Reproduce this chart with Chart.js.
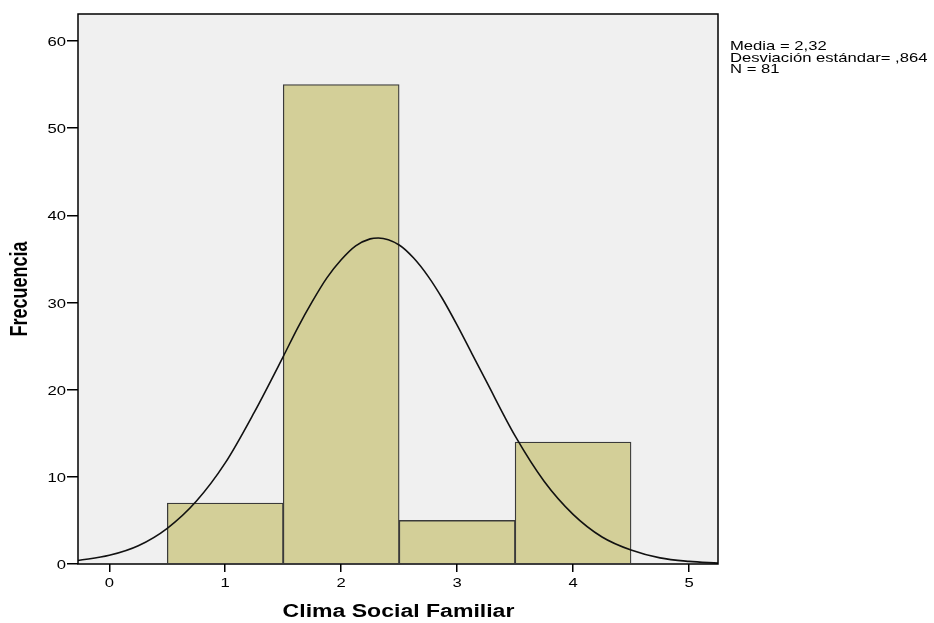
<!DOCTYPE html>
<html>
<head>
<meta charset="utf-8">
<script src="https://cdn.jsdelivr.net/npm/chart.js@4.4.0/dist/chart.umd.min.js"></script>
<style>
  html, body { margin: 0; padding: 0; background: #fff; }
  #wrap { width: 934px; height: 623px; position: relative; }
</style>
</head>
<body>
<div id="wrap"><canvas id="histChart"></canvas></div>
<script>
// histogram bins (class midpoints) and counts
var binCenters = [1, 2, 3, 4];
var binCounts = [7, 55, 5, 14];

// normal curve
var curveX = [-0.27, 0, 0.25, 0.5, 0.75, 1, 1.25, 1.5, 1.625, 1.75, 1.875, 2, 2.125, 2.25, 2.32, 2.5, 2.625, 2.75, 2.875, 3, 3.125, 3.25, 3.5, 3.75, 4, 4.25, 4.5, 4.75, 5, 5.25];
var curveY = [0.4, 1.0, 2.1, 4.1, 7.2, 11.6, 17.4, 23.8, 27.1, 30.1, 32.8, 34.9, 36.5, 37.3, 37.4, 36.6, 35.1, 33.0, 30.4, 27.4, 24.2, 21.0, 14.7, 9.5, 5.7, 3.1, 1.6, 0.7, 0.3, 0.1];

var xTicks = [0, 1, 2, 3, 4, 5];
var yTicks = [0, 10, 20, 30, 40, 50, 60];
var statsLines = ['Media = 2,32', 'Desviación estándar= ,864', 'N = 81'];

var FONT = '"Liberation Sans", Arial, sans-serif';
var SX = 1.28; // the source picture is stretched sideways

function wideText(ctx, text, x, y, align, rotate) {
  ctx.save();
  ctx.translate(x, y);
  if (rotate) {
    ctx.rotate(-Math.PI / 2);
    ctx.scale(1, SX);
  } else {
    ctx.scale(SX, 1);
  }
  ctx.textAlign = align;
  ctx.fillText(text, 0, 0);
  ctx.restore();
}

var plotBg = {
  id: 'plotBg',
  beforeDatasetsDraw: function (chart) {
    var a = chart.chartArea, ctx = chart.ctx;
    ctx.save();
    ctx.fillStyle = '#F0F0F0';
    ctx.fillRect(a.left, a.top, a.right - a.left, a.bottom - a.top);
    ctx.restore();
  },
  afterDatasetsDraw: function (chart) {
    var a = chart.chartArea, ctx = chart.ctx;
    var xs = chart.scales.x, ys = chart.scales.y;
    ctx.save();
    ctx.strokeStyle = '#000';
    ctx.lineWidth = 1.5;
    ctx.strokeRect(a.left, a.top, a.right - a.left, a.bottom - a.top);
    ctx.fillStyle = '#000';

    ctx.font = '13px ' + FONT;
    ctx.textBaseline = 'alphabetic';
    yTicks.forEach(function (v) {
      wideText(ctx, String(v), a.left - 12, ys.getPixelForValue(v) + 5, 'right');
    });
    xTicks.forEach(function (v) {
      wideText(ctx, String(v), xs.getPixelForValue(v), 587, 'center');
    });

    statsLines.forEach(function (t, i) {
      wideText(ctx, t, a.right + 12, 50 + i * 11.5, 'left');
    });

    ctx.font = 'bold 18px ' + FONT;
    wideText(ctx, 'Clima Social Familiar', (a.left + a.right) / 2 + 0.5, 617, 'center');
    ctx.textBaseline = 'middle';
    wideText(ctx, 'Frecuencia', 20.5, 289, 'center', true);
    ctx.restore();
  }
};

new Chart(document.getElementById('histChart').getContext('2d'), {
  data: {
    datasets: [
      {
        type: 'line',
        data: curveX.map(function (x, i) { return { x: x, y: curveY[i] }; }),
        borderColor: '#111',
        borderWidth: 1.6,
        pointRadius: 0,
        cubicInterpolationMode: 'monotone',
        order: 0
      },
      {
        type: 'bar',
        data: binCenters.map(function (x, i) { return { x: x, y: binCounts[i] }; }),
        backgroundColor: '#D3CF98',
        borderColor: '#3a3a3a',
        borderWidth: 1.3,
        barPercentage: 1,
        categoryPercentage: 1,
        order: 1
      }
    ]
  },
  options: {
    responsive: true,
    maintainAspectRatio: false,
    animation: false,
    layout: { padding: { top: 14, right: 216, left: 0, bottom: 0 } },
    plugins: { legend: { display: false }, tooltip: { enabled: false } },
    scales: {
      x: {
        type: 'linear',
        offset: false,
        min: -0.27,
        max: 5.25,
        grid: { display: true, offset: false, drawOnChartArea: false, drawTicks: true, tickLength: 8, color: '#000', lineWidth: 1.5 },
        border: { display: false },
        afterBuildTicks: function (s) { s.ticks = xTicks.map(function (v) { return { value: v }; }); },
        ticks: { display: false },
        afterFit: function (s) { s.height = 59; }
      },
      y: {
        min: 0,
        max: 63.1,
        grid: { display: true, drawOnChartArea: false, drawTicks: true, tickLength: 11, color: '#000', lineWidth: 1.5 },
        border: { display: false },
        afterBuildTicks: function (s) { s.ticks = yTicks.map(function (v) { return { value: v }; }); },
        ticks: { display: false },
        afterFit: function (s) { s.height; s.width = 78; }
      }
    }
  },
  plugins: [plotBg]
});
</script>
</body>
</html>
